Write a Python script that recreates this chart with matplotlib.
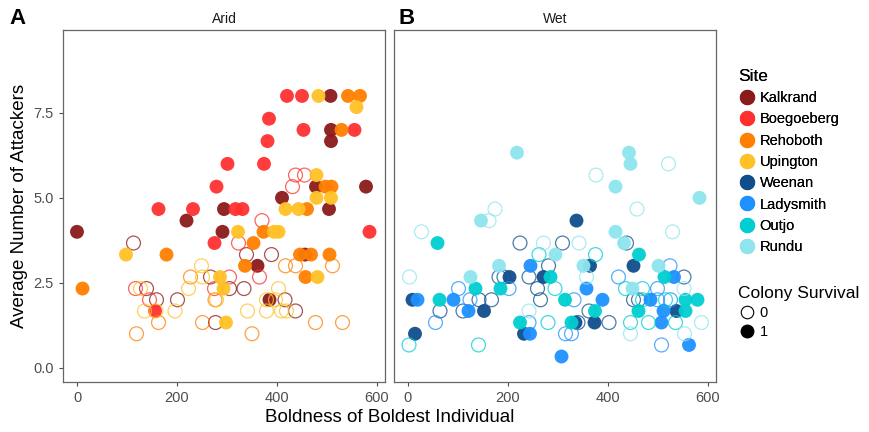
import matplotlib.pyplot as plt
from matplotlib.lines import Line2D

plt.rcParams['font.family'] = ['Liberation Sans', 'DejaVu Sans']

# ---- Arid sites: x = boldness, y = attackers, s = colony survival ----
kalkrand_x = [507, 508, 508, 478, 578, 410, 294, 504, 219, 0, 291, 456, 361, 385,
              113, 339, 389, 267, 305, 334, 139, 159, 201, 416, 437, 277]
kalkrand_y = [8, 7, 6.67, 5.33, 5.33, 5, 4.67, 4.67, 4.33, 4, 4, 3.33, 3, 2,
              3.67, 3.33, 3.33, 2.67, 2.33, 2.33, 2.33, 2, 2, 2, 1.67, 1.33]
kalkrand_s = [1] * 14 + [0] * 12

boegoeberg_x = [420, 450, 384, 453, 555, 381, 301, 374, 279, 163, 232, 317, 331, 585, 275, 156,
                437, 455, 431, 370, 323, 365, 305, 275, 117, 145]
boegoeberg_y = [8, 8, 7.33, 7, 7, 6.67, 6, 6, 5.33, 4.67, 4.67, 4.67, 4.67, 4, 3.67, 1.67,
                5.67, 5.67, 5.33, 4.33, 3.67, 2.67, 2.67, 2.33, 2.33, 2]
boegoeberg_s = [1] * 16 + [0] * 10

rehoboth_x = [542, 566, 529, 497, 509, 460, 373, 353, 179, 446, 468, 505, 336, 457, 11,
              417, 437, 511, 227, 276, 163, 251, 477, 531, 119, 350]
rehoboth_y = [8, 8, 7, 5.33, 5.33, 4.67, 4, 3.67, 3.33, 3.33, 3.33, 3.33, 3, 2.67, 2.33,
              3, 3, 3, 2.67, 2, 1.33, 1.33, 1.33, 1.33, 1, 1]
rehoboth_s = [1] * 15 + [0] * 11

upington_x = [483, 559, 479, 479, 508, 417, 443, 322, 394, 403, 98, 286, 481, 293, 298,
              249, 251, 223, 127, 403, 279, 379, 397, 135, 158, 196, 341, 379, 409, 419]
upington_y = [8, 7.67, 5.67, 5, 5, 4.67, 4.67, 4, 4, 4, 3.33, 2.67, 2.67, 2.33, 1.33,
              3, 2.67, 2.33, 2.33, 2.33, 2, 2, 2, 1.67, 1.67, 1.67, 1.67, 1.67, 1.67, 1.67]
upington_s = [1] * 15 + [0] * 15

# ---- Wet sites ----
weenan_x = [337, 364, 451, 203, 271, 9, 152, 537, 335, 373, 14, 232,
            224, 309, 437, 281, 182, 192, 242, 552, 259, 142, 167, 265, 451, 461, 64, 110, 362, 340, 402]
weenan_y = [4.33, 3, 3, 2.67, 2.67, 2, 1.67, 1.67, 1.33, 1.33, 1, 1,
            3.67, 3.67, 3.67, 3, 2.67, 2.67, 2.67, 2.67, 2.33, 2, 2, 2, 2, 2, 1.67, 1.67, 1.67, 1.33, 1.33]
weenan_s = [1] * 12 + [0] * 19

ladysmith_x = [245, 532, 357, 19, 91, 389, 485, 121, 511, 507, 244, 562, 307,
               524, 421, 101, 202, 499, 124, 332, 499, 525, 55, 242, 315, 327, 507]
ladysmith_y = [3, 2.67, 2.33, 2, 2, 2, 2, 1.67, 1.67, 1.33, 1, 0.67, 0.33,
               3, 2.67, 2.33, 2.33, 2.33, 2, 2, 2, 2, 1.33, 1.33, 1, 1, 0.67]
ladysmith_s = [1] * 13 + [0] * 14

outjo_x = [59, 462, 285, 513, 135, 185, 63, 314, 555, 579, 374, 461, 555, 224, 327,
           262, 375, 294, 435, 469, 469, 515, 280, 445, 481, 535, 2, 141]
outjo_y = [3.67, 3.33, 2.67, 2.67, 2.33, 2.33, 2, 2, 2, 2, 1.67, 1.67, 1.67, 1.33, 1.33,
           3.33, 3.33, 2.33, 2.33, 2.33, 2, 2, 1.33, 1.33, 1.33, 1.33, 0.67, 0.67]
outjo_s = [1] * 15 + [0] * 13

rundu_x = [218, 442, 445, 415, 583, 146, 415, 432, 295, 182, 351, 501, 125, 449,
           521, 376, 458, 174, 162, 27, 529, 271, 342, 357, 3, 552, 242, 587, 445, 553]
rundu_y = [6.33, 6.33, 6, 5.33, 5, 4.33, 4, 3.67, 3.33, 3, 3, 3, 2.67, 2.33,
           6, 5.67, 4.67, 4.67, 4.33, 4, 4, 3.67, 3.67, 2.67, 2.67, 2.33, 1.67, 1.33, 1, 1]
rundu_s = [1] * 14 + [0] * 16

site_names = ["Kalkrand", "Boegoeberg", "Rehoboth", "Upington",
              "Weenan", "Ladysmith", "Outjo", "Rundu"]
site_colors = ["#8B1A1A", "#FF3030", "#FF7F00", "#FFC125",
               "#104E8B", "#1E90FF", "#00CED1", "#8EE5EE"]
x_ticks = [0, 200, 400, 600]
y_ticks = [0.0, 2.5, 5.0, 7.5]

arid = [(kalkrand_x, kalkrand_y, kalkrand_s), (boegoeberg_x, boegoeberg_y, boegoeberg_s),
        (rehoboth_x, rehoboth_y, rehoboth_s), (upington_x, upington_y, upington_s)]
wet = [(weenan_x, weenan_y, weenan_s), (ladysmith_x, ladysmith_y, ladysmith_s),
       (outjo_x, outjo_y, outjo_s), (rundu_x, rundu_y, rundu_s)]

fig = plt.figure(figsize=(8.69, 4.32), dpi=100)
ax_a = fig.add_axes([63 / 869, 50 / 432, 322 / 869, 352 / 432])
ax_b = fig.add_axes([394 / 869, 50 / 432, 322 / 869, 352 / 432])

grey = "#4D4D4D"


def draw_panel(ax, groups, colors, title):
    for (xs, ys, ss), col in zip(groups, colors):
        x0 = [x for x, s in zip(xs, ss) if s == 0]
        y0 = [y for y, s in zip(ys, ss) if s == 0]
        x1 = [x for x, s in zip(xs, ss) if s == 1]
        y1 = [y for y, s in zip(ys, ss) if s == 1]
        ax.scatter(x0, y0, s=100, facecolors="none", edgecolors=col, linewidths=0.9, alpha=0.75)
        ax.scatter(x1, y1, s=100, color=col, edgecolors="none", alpha=0.95)
    ax.set_xlim(-28, 616)
    ax.set_ylim(-0.42, 9.94)
    ax.set_xticks(x_ticks)
    ax.set_yticks(y_ticks)
    ax.set_yticklabels(["%.1f" % v for v in y_ticks])
    ax.tick_params(colors=grey, labelsize=10.5, length=3, width=0.8, labelcolor=grey)
    for sp in ax.spines.values():
        sp.set_color("#666666")
        sp.set_linewidth(0.9)
    ax.set_title(title, fontsize=10, color="#1A1A1A", pad=5)


draw_panel(ax_a, arid, site_colors[:4], "Arid")
draw_panel(ax_b, wet, site_colors[4:], "Wet")
ax_b.tick_params(labelleft=False, left=False)

ax_a.set_ylabel("Average Number of Attackers", fontsize=13.5, color="black", labelpad=4)
fig.text(390 / 869, 15 / 432, "Boldness of Boldest Individual", fontsize=13.5,
         ha="center", va="center")
fig.text(9 / 869, 1 - 18 / 432, "A", fontsize=16, fontweight="bold", ha="left", va="center")
fig.text(398 / 869, 1 - 18 / 432, "B", fontsize=16, fontweight="bold", ha="left", va="center")

# legends
site_handles = [Line2D([], [], marker="o", linestyle="none", markersize=10,
                       markerfacecolor=c, markeredgecolor=c) for c in site_colors]
leg1 = fig.legend(site_handles, site_names, title="Site", loc="upper left",
                  bbox_to_anchor=(732 / 869, 1 - 63 / 432), frameon=False,
                  fontsize=10.5, title_fontsize=12.5, handletextpad=0.3,
                  labelspacing=0.5, borderaxespad=0, alignment="left",
                  handlelength=1.2)
surv_handles = [Line2D([], [], marker="o", linestyle="none", markersize=9,
                       markerfacecolor="white", markeredgecolor="black", markeredgewidth=0.8),
                Line2D([], [], marker="o", linestyle="none", markersize=9,
                       markerfacecolor="black", markeredgecolor="black")]
leg2 = fig.legend(surv_handles, ["0", "1"], title="Colony Survival", loc="upper left",
                  bbox_to_anchor=(732 / 869, 1 - 280 / 432), frameon=False,
                  fontsize=10.5, title_fontsize=12.5, handletextpad=0.3,
                  labelspacing=0.35, borderaxespad=0, alignment="left",
                  handlelength=1.2)
fig.add_artist(leg1)

fig.savefig("out.png", dpi=100)
